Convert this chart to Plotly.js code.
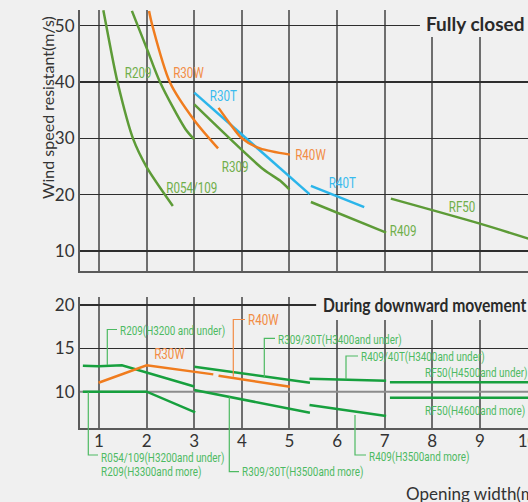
<!DOCTYPE html>
<html>
<head>
<meta charset="utf-8">
<script src="https://cdn.plot.ly/plotly-3.0.1.min.js"></script>
<style>
  html, body { margin: 0; padding: 0; background: #f0f0f0; overflow: hidden; }
  #chart { width: 528px; height: 502px; }
</style>
</head>
<body>
<div id="chart"></div>
<script>
// ===== Data: Fully closed (top chart) =====
const r054_109_x = [1.09, 1.23, 1.39, 1.72, 2.0, 2.55];
const r054_109_y = [52.7, 46.5, 39.9, 29.8, 24.9, 18.0];
const r209_x = [1.69, 2.0, 2.28, 2.81, 3.0];
const r209_y = [52.6, 46.0, 40.0, 31.7, 29.8];
const r30w_x = [2.05, 2.12, 2.49, 3.0, 3.5];
const r30w_y = [52.6, 50.0, 39.9, 33.2, 28.2];
const r30t_x = [3.0, 5.42];
const r30t_y = [38.1, 20.1];
const r40w_x = [3.51, 3.75, 4.0, 4.38, 5.01];
const r40w_y = [35.4, 32.6, 30.0, 28.2, 27.1];
const r309_x = [3.0, 4.45, 4.8, 5.0];
const r309_y = [36.0, 24.5, 22.5, 20.9];
const r40t_x = [5.45, 6.57];
const r40t_y = [21.55, 17.8];
const r409_x = [5.45, 7.03];
const r409_y = [18.7, 13.26];
const rf50_x = [7.13, 9.0, 10.02];
const rf50_y = [19.3, 14.86, 12.2];

// ===== Data: During downward movement (bottom chart) =====
const d_r209a_x = [0.66, 0.99, 1.48, 3.0];      // R209 (H3200 and under)
const d_r209a_y = [13.0, 12.93, 13.04, 10.6];
const d_r054b_x = [0.66, 2.0, 3.02];            // R054/109 (H3200 and under), R209 (H3300 and more)
const d_r054b_y = [10.0, 10.0, 7.62];
const d_r30w_x = [0.99, 2.0, 3.4];
const d_r30w_y = [11.04, 13.04, 12.0];
const d_r40w_x = [3.51, 5.01];
const d_r40w_y = [11.85, 10.58];
const d_r309u_x = [3.0, 5.43];                  // R309/30T (H3400 and under)
const d_r309u_y = [12.88, 11.04];
const d_r309m_x = [3.0, 4.59, 5.43];            // R309/30T (H3500 and more)
const d_r309m_y = [10.2, 8.47, 7.58];
const d_r409u_x = [5.42, 7.03];                 // R409/40T (H3400 and under)
const d_r409u_y = [11.5, 11.27];
const d_r409m_x = [5.42, 7.03];                 // R409 (H3500 and more)
const d_r409m_y = [8.46, 7.19];
const d_rf50u_x = [7.11, 10.02];                // RF50 (H4500 and under)
const d_rf50u_y = [11.08, 11.08];
const d_rf50m_x = [7.11, 10.02];                // RF50 (H4600 and more)
const d_rf50m_y = [9.31, 9.31];

const xTicks = [1, 2, 3, 4, 5, 6, 7, 8, 9, 10];
const yTopTicks = [10, 20, 30, 40, 50];
const yBotTicks = [10, 15, 20];

// ===== Styles =====
const BG = '#f0f0f0';
const GREEN = '#5d9b37', ORANGE = '#f07c1e', BLUE = '#2bb5ea', BGREEN = '#17a03e';
const TGREEN = '#6fae4a', TORANGE = '#f28c45', TBLUE = '#38bbee', LGREEN = '#4dba62';
const NARROW = 'Roboto, sans-serif';
const MAIN = 'Lato, "Open Sans", sans-serif';

function tr(x, y, color, xa, ya, smooth) {
  return { x: x, y: y, xaxis: xa, yaxis: ya, mode: 'lines', hoverinfo: 'skip',
    line: { color: color, width: 2.5, shape: smooth ? 'spline' : 'linear', smoothing: 0.8 } };
}

const data = [
  tr(r054_109_x, r054_109_y, GREEN, 'x', 'y', true),
  tr(r209_x, r209_y, GREEN, 'x', 'y', true),
  tr(r30w_x, r30w_y, ORANGE, 'x', 'y', true),
  tr(r30t_x, r30t_y, BLUE, 'x', 'y', false),
  tr(r40w_x, r40w_y, ORANGE, 'x', 'y', true),
  tr(r309_x, r309_y, GREEN, 'x', 'y', true),
  tr(r40t_x, r40t_y, BLUE, 'x', 'y', false),
  tr(r409_x, r409_y, GREEN, 'x', 'y', false),
  tr(rf50_x, rf50_y, GREEN, 'x', 'y', true),

  tr(d_r209a_x, d_r209a_y, BGREEN, 'x2', 'y2', false),
  tr(d_r054b_x, d_r054b_y, BGREEN, 'x2', 'y2', false),
  tr(d_r30w_x, d_r30w_y, ORANGE, 'x2', 'y2', false),
  tr(d_r40w_x, d_r40w_y, ORANGE, 'x2', 'y2', false),
  tr(d_r309u_x, d_r309u_y, BGREEN, 'x2', 'y2', false),
  tr(d_r309m_x, d_r309m_y, BGREEN, 'x2', 'y2', false),
  tr(d_r409u_x, d_r409u_y, BGREEN, 'x2', 'y2', false),
  tr(d_r409m_x, d_r409m_y, BGREEN, 'x2', 'y2', false),
  tr(d_rf50u_x, d_rf50u_y, BGREEN, 'x2', 'y2', false),
  tr(d_rf50m_x, d_rf50m_y, BGREEN, 'x2', 'y2', false)
];

const W = 528, H = 502;
const PX = p => p / W, PY = p => 1 - p / H;

const xBase = {
  domain: [PX(80), 1], range: [0.6, 10.01], tickvals: xTicks,
  showgrid: true, gridcolor: '#6e6e6e', gridwidth: 2,
  showline: true, linecolor: '#5a5a5a', linewidth: 2,
  zeroline: false, ticks: '', fixedrange: true,
  tickfont: { family: MAIN, size: 17, color: '#333' }
};
const yBase = {
  showgrid: true, gridcolor: '#2e2e2e', gridwidth: 1.3,
  showline: true, linecolor: '#5a5a5a', linewidth: 2,
  zeroline: false, ticks: '', fixedrange: true,
  tickfont: { family: MAIN, size: 17, color: '#333' }
};

// horizontal condensing factor per annotation (applied after drawing)
const squeeze = [];

function lab(text, x, y, color, xa, ya, size, anchor, sx) {
  squeeze.push(sx || 1);
  return { text: text, x: x, y: y, xref: xa, yref: ya, showarrow: false,
    xanchor: anchor || 'center', yanchor: 'middle',
    font: { family: NARROW, size: size || 14, color: color } };
}
function plab(text, px, py, color, size, sx) {
  return lab(text, PX(px), PY(py), color, 'paper', 'paper', size, 'left', sx || 0.79);
}
function free(obj, sx) { squeeze.push(sx || 1); return obj; }
function leader(pts, color) {
  let d = '';
  pts.forEach((p, i) => { d += (i ? ' L ' : 'M ') + PX(p[0]) + ',' + PY(p[1]); });
  return { type: 'path', xref: 'paper', yref: 'paper', path: d,
    line: { color: color, width: 1.2 }, layer: 'above' };
}

const TS = 0.83;
const annotations = [
  // top labels
  lab('R209', 1.82, 41.6, TGREEN, 'x', 'y', 14, 'center', TS),
  lab('R30W', 2.87, 41.6, TORANGE, 'x', 'y', 14, 'center', TS),
  lab('R30T', 3.62, 37.5, TBLUE, 'x', 'y', 14, 'center', TS),
  lab('R309', 3.86, 24.9, TGREEN, 'x', 'y', 14, 'center', TS),
  lab('R054/109', 2.95, 21.1, TGREEN, 'x', 'y', 14, 'center', TS),
  lab('R40W', 5.45, 27.0, TORANGE, 'x', 'y', 14, 'center', TS),
  lab('R40T', 6.12, 22.0, TBLUE, 'x', 'y', 14, 'center', TS),
  lab('R409', 7.38, 13.5, TGREEN, 'x', 'y', 14, 'center', TS),
  lab('RF50', 8.62, 17.8, TGREEN, 'x', 'y', 14, 'center', TS),
  // section titles
  free({ text: 'Fully closed', x: PX(424), y: PY(24), xref: 'paper', yref: 'paper', showarrow: false,
    xanchor: 'left', yanchor: 'middle', font: { family: MAIN, size: 19, color: '#2a2a2a', weight: 700 } }, 1),
  free({ text: 'During downward movement', x: PX(321), y: PY(304.5), xref: 'paper', yref: 'paper', showarrow: false,
    xanchor: 'left', yanchor: 'middle', font: { family: MAIN, size: 18, color: '#2a2a2a', weight: 700 } }, 0.87),
  // axis titles
  free({ text: 'Wind speed resistant(m/s)', x: PX(47), y: PY(108), xref: 'paper', yref: 'paper', showarrow: false,
    textangle: -90, xanchor: 'center', yanchor: 'middle', font: { family: MAIN, size: 16, color: '#333' } }, 1),
  free({ text: 'Opening width(m)', x: PX(404), y: PY(493), xref: 'paper', yref: 'paper', showarrow: false,
    xanchor: 'left', yanchor: 'middle', font: { family: MAIN, size: 17, color: '#333' } }, 1),
  // bottom labels
  plab('R209(H3200 and under)', 117.5, 330.5, LGREEN, 12.5),
  lab('R30W', 2.47, 14.3, TORANGE, 'x2', 'y2', 14, 'center', TS),
  plab('R40W', 245.5, 320, TORANGE, 14, TS),
  plab('R309/30T(H3400and under)', 275.5, 339, LGREEN, 12.5),
  plab('R409/40T(H3400and under)', 358.5, 356.7, LGREEN, 12.5),
  plab('RF50(H4500and under)', 422.5, 372.3, LGREEN, 12.5),
  plab('RF50(H4600and more)', 422.5, 410, LGREEN, 12.5),
  plab('R054/109(H3200and under)', 99, 457.3, LGREEN, 12.5),
  plab('R209(H3300and more)', 99, 471.7, LGREEN, 12.5),
  plab('R309/30T(H3500and more)', 239.5, 471.7, LGREEN, 12.5),
  plab('R409(H3500and more)', 367, 456.7, LGREEN, 12.5)
];

const shapes = [
  // masks behind section titles (grid interrupted there)
  { type: 'rect', xref: 'x', yref: 'y', x0: 7.74, x1: 10.6, y0: 47.96, y1: 55,
    fillcolor: BG, line: { width: 0 }, layer: 'above' },
  { type: 'rect', xref: 'x2', yref: 'y2', x0: 5.56, x1: 10.6, y0: 18.27, y1: 22,
    fillcolor: BG, line: { width: 0 }, layer: 'above' },
  // lighter gridline at 10 in the lower chart
  { type: 'line', xref: 'x2', yref: 'y2', x0: 0.6, x1: 10.01, y0: 10, y1: 10,
    line: { color: '#8c8c8c', width: 2 }, layer: 'between' },
  // leader lines
  leader([[107.3, 365], [107.3, 329.5], [117, 329.5]], LGREEN),
  leader([[233.3, 376.7], [233.3, 319.5], [245, 319.5]], TORANGE),
  leader([[264.3, 377.7], [264.3, 338.3], [275, 338.3]], LGREEN),
  leader([[346, 379.3], [346, 356], [358, 356]], LGREEN),
  leader([[88.3, 392], [88.3, 455], [98, 455]], LGREEN),
  leader([[229.3, 396.7], [229.3, 471.7], [239, 471.7]], LGREEN),
  leader([[355, 415], [355, 455], [366, 455]], LGREEN)
];

const layout = {
  width: W, height: H,
  margin: { l: 0, r: 0, t: 0, b: 0 },
  paper_bgcolor: BG, plot_bgcolor: BG,
  showlegend: false,
  xaxis: Object.assign({}, xBase, { anchor: 'y', showticklabels: false }),
  yaxis: Object.assign({}, yBase, { domain: [PY(270.7), PY(10)], range: [6.51, 52.76], tickvals: yTopTicks, anchor: 'x' }),
  xaxis2: Object.assign({}, xBase, { anchor: 'y2', showticklabels: true, ticklabelstandoff: -4, ticklabeloverflow: 'allow' }),
  yaxis2: Object.assign({}, yBase, { domain: [PY(428.3), PY(296.7)], range: [5.78, 20.96], tickvals: yBotTicks, anchor: 'x2' }),
  annotations: annotations,
  shapes: shapes
};

Plotly.newPlot('chart', data, layout, { staticPlot: true, displayModeBar: false }).then(gd => {
  // condense label text horizontally (the reference uses a condensed typeface)
  gd.querySelectorAll('.annotation').forEach(g => {
    const i = +g.getAttribute('data-index');
    const s = squeeze[i];
    if (!s || s === 1) return;
    const t = g.querySelector('text.annotation-text');
    if (!t) return;
    const bb = t.getBBox();
    const anchor = annotations[i].xanchor;
    const pivot = anchor === 'left' ? bb.x : bb.x + bb.width / 2;
    t.setAttribute('transform', 'translate(' + pivot + ',0) scale(' + s + ',1) translate(' + (-pivot) + ',0)');
  });
});
</script>
</body>
</html>
